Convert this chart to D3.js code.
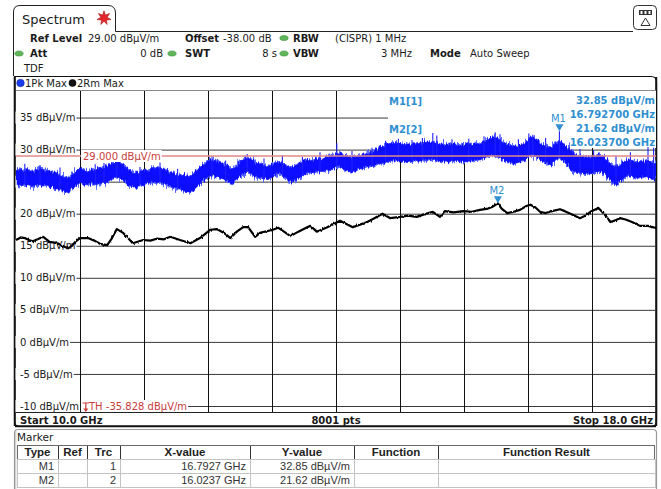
<!DOCTYPE html>
<html>
<head>
<meta charset="utf-8">
<script src="https://cdn.jsdelivr.net/npm/d3@7"></script>
<style>
  body { margin: 0; background: #fff; }
  svg { display: block; font-family: "DejaVu Sans", Verdana, sans-serif; }
</style>
</head>
<body>
<svg id="chart" width="661" height="489"></svg>
<script>
// ---- sweep settings ----
const startGHz = 10.0;
const stopGHz = 18.0;
const sweepPoints = 8001;
const refLevel = 29.0;
const thLevel = -35.828;
const yTicks = [-10, -5, 0, 5, 10, 15, 20, 25, 30, 35];
const xGrid = [10.8, 11.6, 12.4, 13.2, 14.0, 14.8, 15.6, 16.4, 17.2];

// ---- trace 1: Pk Max, envelope every 50 MHz (dBuV/m) ----
const pkStep = 0.05;
const pkTop = [
  26.8, 27.1, 26.6, 27.0, 26.5, 26.9, 27.3, 26.7, 26.9, 26.3,
  26.4, 25.9, 25.8, 25.4, 26.2, 26.6, 27.1, 26.8, 26.6, 27.0,
  26.7, 27.2, 27.1, 27.5, 27.8, 28.3, 28.0, 27.5, 26.9, 26.4,
  26.5, 26.3, 26.8, 26.7, 27.3, 27.0, 27.2, 26.9, 26.6, 26.4,
  26.1, 25.9, 26.1, 25.7, 26.0, 26.7, 27.2, 27.7, 28.2, 28.5,
  28.2, 28.1, 27.6, 27.4, 27.0, 27.5, 28.1, 28.5, 28.7, 28.4,
  28.0, 27.8, 27.5, 27.4, 27.8, 27.9, 28.1, 27.7, 27.4, 27.1,
  27.5, 27.9, 28.3, 28.4, 28.3, 28.6, 28.5, 28.7, 28.9, 29.0,
  29.4, 29.5, 29.2, 28.9, 28.7, 28.9, 29.0, 29.3, 29.5, 29.6,
  30.0, 30.4, 30.7, 30.9, 31.0, 31.1, 30.9, 30.7, 30.9, 30.8,
  30.9, 31.0, 31.1, 31.2, 31.2, 31.0, 30.9, 30.7, 30.8, 30.9,
  30.8, 30.7, 30.8, 30.9, 30.8, 30.9, 31.0, 31.3, 31.6, 32.0,
  31.9, 31.5, 31.0, 30.7, 30.6, 30.5, 30.7, 31.0, 31.6, 32.0,
  31.7, 31.0, 30.7, 30.5, 30.4, 31.0, 31.3, 30.9, 30.2, 29.6,
  29.1, 29.0, 28.8, 28.9, 28.7, 29.0, 29.2, 28.8, 28.2, 27.6,
  27.3, 27.6, 28.1, 28.4, 28.3, 28.1, 28.1, 28.2, 28.3, 27.9,
  27.8
];
const pkBottom = [
  24.5, 24.3, 24.6, 24.4, 24.2, 24.5, 24.4, 24.6, 24.3, 24.1,
  23.9, 23.8, 23.5, 23.3, 23.9, 24.3, 24.9, 24.6, 24.5, 24.7,
  24.5, 24.7, 24.8, 25.0, 25.4, 25.8, 25.6, 25.1, 24.5, 24.2,
  24.1, 24.3, 24.5, 24.7, 25.0, 24.8, 24.9, 24.7, 24.5, 24.2,
  23.9, 23.8, 23.6, 23.4, 23.5, 24.2, 24.8, 25.4, 25.8, 26.0,
  25.8, 25.7, 25.3, 25.0, 24.7, 25.3, 25.9, 26.3, 26.5, 26.1,
  25.8, 25.6, 25.4, 25.3, 25.8, 26.1, 26.4, 25.8, 25.2, 24.9,
  25.3, 25.7, 26.1, 26.4, 26.4, 26.5, 26.6, 26.7, 26.8, 27.0,
  27.2, 27.3, 26.9, 26.6, 26.5, 26.7, 27.0, 27.2, 27.3, 27.4,
  27.6, 27.9, 28.0, 28.1, 28.3, 28.4, 28.2, 28.1, 28.2, 28.2,
  28.3, 28.2, 28.4, 28.4, 28.5, 28.3, 28.2, 28.1, 28.1, 28.3,
  28.3, 28.1, 28.1, 28.2, 28.3, 28.3, 28.4, 28.7, 28.9, 29.2,
  29.0, 28.7, 28.3, 28.0, 27.9, 27.9, 28.1, 28.3, 28.9, 29.2,
  28.9, 28.4, 28.0, 27.8, 27.6, 28.5, 28.7, 28.2, 27.6, 26.8,
  26.5, 26.4, 26.3, 26.3, 26.2, 26.5, 26.7, 26.3, 25.6, 24.9,
  24.6, 25.0, 25.6, 25.9, 25.8, 25.6, 25.6, 25.7, 25.8, 25.4,
  25.3
];
// isolated peaks rising above the Pk Max band: [GHz, dBuV/m]
const pkSpikes = [
  [10.11, 27.8], [10.30, 27.6], [10.55, 27.2], [10.99, 27.7], [11.10, 27.9],
  [11.26, 28.6], [11.55, 27.3], [11.80, 28.0], [12.02, 27.0], [12.45, 29.0],
  [12.62, 28.3], [12.89, 29.3], [13.10, 28.6], [13.33, 29.1], [13.58, 28.9],
  [13.80, 29.6], [14.01, 31.0], [14.20, 29.8], [14.45, 30.3], [14.62, 31.4],
  [14.78, 31.7], [14.95, 31.5], [15.08, 31.8], [15.21, 32.6], [15.26, 32.2],
  [15.45, 31.6], [15.66, 31.7], [15.85, 32.1], [15.99, 32.7], [16.05, 32.4],
  [16.28, 31.6], [16.41, 32.5], [16.46, 32.3], [16.62, 31.8], [17.05, 30.1],
  [17.22, 29.9], [17.50, 29.0], [17.68, 29.6], [17.90, 30.4], [17.97, 30.3]
];

// ---- trace 2: Rm Max ----
const rmFreq = [
  10.00, 10.06, 10.11, 10.16, 10.21, 10.27, 10.34, 10.42, 10.52, 10.58,
  10.65, 10.70, 10.74, 10.80, 10.90, 10.98, 11.05, 11.14, 11.20, 11.26,
  11.34, 11.40, 11.46, 11.59, 11.68, 11.76, 11.85, 11.93, 12.05, 12.18,
  12.30, 12.43, 12.51, 12.60, 12.68, 12.76, 12.84, 12.90, 12.99, 13.05,
  13.21, 13.28, 13.35, 13.43, 13.53, 13.64, 13.68, 13.76, 13.89, 13.97,
  14.05, 14.13, 14.21, 14.30, 14.39, 14.48, 14.58, 14.68, 14.80, 14.90,
  15.01, 15.10, 15.21, 15.30, 15.36, 15.47, 15.59, 15.70, 15.80, 15.90,
  15.96, 16.0237, 16.07, 16.14, 16.22, 16.30, 16.38, 16.43, 16.49, 16.55,
  16.62, 16.70, 16.80, 16.86, 16.93, 17.05, 17.12, 17.18, 17.28, 17.35,
  17.43, 17.50, 17.55, 17.62, 17.70, 17.80, 17.90, 17.96, 18.00
];
const rmLevel = [
  15.9, 16.3, 16.2, 15.9, 15.7, 16.0, 16.4, 15.6, 15.4, 15.0,
  14.6, 15.0, 15.6, 16.2, 16.2, 15.8, 15.3, 15.1, 16.2, 17.6,
  17.0, 16.2, 15.4, 15.9, 15.8, 16.1, 16.0, 16.4, 15.9, 15.4,
  16.2, 17.5, 17.6, 17.0, 16.2, 17.2, 17.9, 17.9, 16.4, 17.0,
  17.5, 17.8, 17.2, 16.5, 17.2, 17.9, 18.1, 17.2, 17.9, 18.4,
  18.9, 18.4, 17.9, 18.3, 18.7, 19.3, 20.0, 19.3, 19.5, 19.7,
  19.5, 19.9, 20.3, 19.5, 20.4, 20.2, 20.4, 20.3, 20.6, 20.8,
  21.1, 21.62, 20.8, 20.1, 20.3, 20.6, 21.2, 21.4, 21.0, 20.3,
  20.1, 20.4, 20.7, 20.4, 20.0, 19.3, 19.7, 20.3, 20.9, 20.0,
  18.7, 19.0, 19.3, 19.1, 18.7, 18.1, 18.1, 17.9, 17.8
];

// ---- markers ----
const markerNames = ["M1", "M2"];
const markerTrace = [1, 2];
const markerFreq = [16.7927, 16.0237];
const markerLevel = [32.85, 21.62];

// ---- table header ----
const tableCols = ["Type", "Ref", "Trc", "X-value", "Y-value", "Function", "Function Result"];

// ================= drawing =================
const svg = d3.select("#chart");
const plotL = 16, plotR = 656, plotT = 90, plotB = 412;
const x = d3.scaleLinear().domain([startGHz, stopGHz]).range([plotL, plotR]);
const y = d3.scaleLinear().domain([-10, 40]).range([406, 85.5]);

const TXT = "#1a1a1a";
const MK = "#2f8fd0";
const RED = "#c83c3c";

svg.append("rect").attr("width", 661).attr("height", 489).attr("fill", "#fff");

// detector noise look for the traces: fine-grained jitter of the drawn edges
const defs = svg.append("defs");
function jitterFilter(id, freq, scale, seed) {
  const f = defs.append("filter").attr("id", id)
    .attr("filterUnits", "userSpaceOnUse")
    .attr("x", 0).attr("y", 60).attr("width", 661).attr("height", 380);
  f.append("feTurbulence").attr("type", "fractalNoise").attr("baseFrequency", freq)
    .attr("numOctaves", 2).attr("seed", seed).attr("result", "n");
  f.append("feDisplacementMap").attr("in", "SourceGraphic").attr("in2", "n")
    .attr("scale", scale).attr("xChannelSelector", "R").attr("yChannelSelector", "G");
}
jitterFilter("pkHalo", "0.9 0.03", 12, 4);
jitterFilter("pkCore", "0.7 0.05", 7, 9);
jitterFilter("rmFuzz", "0.8 0.1", 2.5, 2);

// ---------- header: tab, icon, settings ----------
const head = svg.append("g");
head.append("path")
  .attr("d", "M13.5,76 V12 Q13.5,5.5 20,5.5 H108 Q115.5,5.5 115.5,13 V31.5 H633")
  .attr("fill", "none").attr("stroke", "#222").attr("stroke-width", 1);
head.append("text").attr("x", 22).attr("y", 23.5).attr("font-size", 13)
  .attr("fill", TXT).text("Spectrum");
// red star badge
const star = d3.range(14).map(k => {
  const r = k % 2 === 0 ? 7.2 : 3.2;
  const a = -Math.PI / 2 + k * Math.PI / 7;
  return [104 + r * Math.cos(a), 18 + r * Math.sin(a)];
});
head.append("path").attr("d", d3.line()(star) + "Z")
  .attr("fill", "#e5262a").attr("stroke", "#a3181b").attr("stroke-width", 0.6);

// icon at top right
head.append("rect").attr("x", 633.5).attr("y", 5.5).attr("width", 23).attr("height", 24).attr("rx", 4)
  .attr("fill", "#fff").attr("stroke", "#333");
head.append("rect").attr("x", 639).attr("y", 10).attr("width", 13).attr("height", 5).attr("fill", "#333");
head.selectAll("rect.seg").data([641.5, 645.5, 649.5]).enter().append("rect")
  .attr("x", d => d - 1).attr("y", 11).attr("width", 2).attr("height", 3).attr("fill", "#fff");
head.append("path").attr("d", "M645.5,18 L650,25.5 L641,25.5 Z")
  .attr("fill", "none").attr("stroke", "#333");

function txt(g, xx, yy, s, opt = {}) {
  return g.append("text").attr("x", xx).attr("y", yy)
    .attr("font-size", opt.size || 10)
    .attr("font-weight", opt.bold ? "bold" : null)
    .attr("text-anchor", opt.anchor || "start")
    .attr("fill", opt.fill || TXT).text(s);
}
function dot(g, cx, cy) {
  g.append("ellipse").attr("cx", cx).attr("cy", cy).attr("rx", 4.2).attr("ry", 2.6)
    .attr("fill", "#5fb65a").attr("stroke", "#3f8e3b").attr("stroke-width", 0.5);
}
const r1 = 41.5, r2 = 57;
txt(head, 30, r1, "Ref Level", { bold: true });
txt(head, 88, r1, "29.00 dBµV/m");
txt(head, 185, r1, "Offset", { bold: true });
txt(head, 223, r1, "-38.00 dB");
dot(head, 284, r1 - 3.5);
txt(head, 293, r1, "RBW", { bold: true });
txt(head, 335, r1, "(CISPR) 1 MHz");
dot(head, 19, r2 - 3.5);
txt(head, 30, r2, "Att", { bold: true });
txt(head, 163, r2, "0 dB", { anchor: "end" });
dot(head, 172, r2 - 3.5);
txt(head, 185, r2, "SWT", { bold: true });
txt(head, 277, r2, "8 s", { anchor: "end" });
dot(head, 284, r2 - 3.5);
txt(head, 293, r2, "VBW", { bold: true });
txt(head, 412, r2, "3 MHz", { anchor: "end" });
txt(head, 430, r2, "Mode", { bold: true });
txt(head, 470, r2, "Auto Sweep");
txt(head, 24, 72, "TDF");

// ---------- diagram frame ----------
const frame = svg.append("g");
frame.append("path")
  .attr("d", "M14.5,76.5 H651 Q656.5,76.5 656.5,82 V421 Q656.5,426.5 651,426.5 H20 Q14.5,426.5 14.5,421 Z")
  .attr("fill", "#fff").attr("stroke", "#111").attr("stroke-width", 1.2);
frame.append("path").attr("d", "M14.8,77 V426 M656.2,77 V426 M15,426.2 H656")
  .attr("stroke", "#111").attr("stroke-width", 2).attr("fill", "none");

// trace legend
frame.append("circle").attr("cx", 20.5).attr("cy", 83).attr("r", 3.8).attr("fill", "#1a3cf0").attr("stroke", "#10208a").attr("stroke-width", 0.5);
txt(frame, 25, 86.5, "1Pk Max");
frame.append("circle").attr("cx", 72.5).attr("cy", 83).attr("r", 3.8).attr("fill", "#111");
txt(frame, 77, 86.5, "2Rm Max");

// ---------- grid ----------
const grid = svg.append("g");
const gy = grid.append("g").attr("transform", `translate(${plotL},0)`)
  .call(d3.axisRight(y).tickValues(yTicks).tickSize(plotR - plotL).tickFormat(""));
gy.select(".domain").remove();
gy.selectAll("line").attr("stroke", "#3a3a3a");
const gx = grid.append("g").attr("transform", `translate(0,${plotT})`)
  .call(d3.axisBottom(x).tickValues(xGrid).tickSize(plotB - plotT).tickFormat(""));
gx.select(".domain").remove();
gx.selectAll("line").attr("stroke", "#111");
grid.append("line").attr("x1", plotL).attr("x2", plotR).attr("y1", plotT + 0.5).attr("y2", plotT + 0.5).attr("stroke", "#8a8a8a");
grid.append("line").attr("x1", plotL).attr("x2", plotR).attr("y1", plotB + 0.5).attr("y2", plotB + 0.5).attr("stroke", "#222");

// level labels on a white ground
function labelWithGround(g, xx, yy, s, fill, padL) {
  const t = txt(g, xx, yy + 3.6, s, { fill });
  const w = t.node().getComputedTextLength();
  const left = xx - (padL || 2);
  g.insert("rect", () => t.node())
    .attr("x", left).attr("y", yy - 6).attr("width", xx + w + 1 - left).attr("height", 12).attr("fill", "#fff");
  return w;
}
const labels = svg.append("g");
yTicks.forEach(v => labelWithGround(labels, 20, y(v), `${v} dBµV/m`, TXT, 4.5));
// threshold indicator pinned to the bottom grid line
const thG = svg.append("g");
labelWithGround(thG, 89, y(-10), `TH  ${thLevel.toFixed(3)} dBµV/m`, RED, 8);
thG.append("path").attr("d", `M82.5,${y(-10) - 3} H89 M85.8,${y(-10) - 3} V${y(-10) + 5}`)
  .attr("stroke", RED).attr("stroke-width", 1.2).attr("fill", "none");
thG.append("path").attr("d", `M83.3,${y(-10) + 2.5} L88.3,${y(-10) + 2.5} L85.8,${y(-10) + 6} Z`).attr("fill", RED);

// marker info box (covers the grid, traces run over it)
const info = svg.append("g");
info.append("rect").attr("x", 388).attr("y", plotT + 1).attr("width", plotR - 388).attr("height", 57).attr("fill", "#fff");

// ---------- traces ----------
svg.append("clipPath").attr("id", "plotClip").append("rect")
  .attr("x", plotL).attr("y", plotT + 1).attr("width", plotR - plotL).attr("height", plotB - plotT - 1);
const traces = svg.append("g").attr("clip-path", "url(#plotClip)");

const pkX = i => x(startGHz + i * pkStep);
const pkArea = d3.area()
  .x((d, i) => pkX(i))
  .y0((d, i) => y(pkBottom[i]))
  .y1((d, i) => y(pkTop[i]));
traces.append("g").attr("filter", "url(#pkHalo)")
  .append("path").datum(pkTop).attr("d", pkArea)
  .attr("fill", "#5566ff").attr("stroke", "#5566ff").attr("stroke-width", 1.5);
traces.append("g").attr("filter", "url(#pkCore)")
  .append("path").datum(pkTop).attr("d", pkArea)
  .attr("fill", "#1010ff").attr("stroke", "#1010ff").attr("stroke-width", 0.5);

const nearestIdx = f => Math.max(0, Math.min(pkTop.length - 1, Math.round((f - startGHz) / pkStep)));
const spikeData = pkSpikes.concat(markerTrace.map((t, k) => t === 1 ? [markerFreq[k], markerLevel[k]] : null).filter(Boolean));
traces.selectAll("line.spike").data(spikeData).enter().append("line")
  .attr("x1", d => x(d[0])).attr("x2", d => x(d[0]))
  .attr("y1", d => y(pkBottom[nearestIdx(d[0])]))
  .attr("y2", d => y(d[1]))
  .attr("stroke", "#2020ff").attr("stroke-width", 1.1);

const rmLine = d3.line().x((d, i) => x(rmFreq[i])).y(d => y(d));
traces.append("g").attr("filter", "url(#rmFuzz)")
  .append("path").datum(rmLevel).attr("d", rmLine)
  .attr("fill", "none").attr("stroke", "#000").attr("stroke-width", 2.2).attr("stroke-linejoin", "round");

// reference level line
const refG = svg.append("g");
const refY = y(refLevel);
refG.append("line").attr("x1", plotL).attr("x2", plotR).attr("y1", refY).attr("y2", refY)
  .attr("stroke", "#e08a8a").attr("stroke-width", 1.6);
labelWithGround(refG, 83, refY, `${refLevel.toFixed(3)} dBµV/m`, RED, 2);

// ---------- markers ----------
const mk = svg.append("g");
markerNames.forEach((name, k) => {
  const mx = x(markerFreq[k]), my = y(markerLevel[k]);
  mk.append("path").attr("d", `M${mx - 4},${my - 7} L${mx + 4},${my - 7} L${mx},${my} Z`).attr("fill", MK);
  txt(mk, mx - 1, my - 9, name, { anchor: "middle", fill: MK });
});
// marker readout
markerNames.forEach((name, k) => {
  const base = 104 + k * 28;
  txt(info, 389, base + 1, `${name}[${markerTrace[k]}]`, { bold: true, fill: MK });
  txt(info, 655, base, `${markerLevel[k].toFixed(2)} dBµV/m`, { bold: true, fill: MK, anchor: "end" });
  txt(info, 655, base + 14, `${markerFreq[k].toFixed(6)} GHz`, { bold: true, fill: MK, anchor: "end" });
});

// ---------- footer ----------
const foot = svg.append("g");
txt(foot, 20, 423.5, `Start ${startGHz.toFixed(1)} GHz`, { bold: true });
txt(foot, 336, 423.5, `${sweepPoints} pts`, { bold: true, anchor: "middle" });
txt(foot, 653, 423.5, `Stop ${stopGHz.toFixed(1)} GHz`, { bold: true, anchor: "end" });

// ---------- marker table ----------
const tbl = svg.append("g").attr("font-family", "'Liberation Sans', Arial, sans-serif");
tbl.append("path")
  .attr("d", "M14.5,495 V433 Q14.5,429.5 18,429.5 H653 Q656.5,429.5 656.5,433 V495")
  .attr("fill", "#fff").attr("stroke", "#9a9a9a").attr("stroke-width", 1.2);
tbl.append("line").attr("x1", 15.8).attr("x2", 15.8).attr("y1", 431).attr("y2", 489).attr("stroke", "#c4c4c4");
tbl.append("text").attr("x", 17).attr("y", 441).attr("font-size", 10.5)
  .attr("font-family", "'DejaVu Sans', Verdana, sans-serif").attr("fill", TXT).text("Marker");

const colEdges = [17, 58, 87, 120, 250, 354, 438, 655];
const hdrT = 445, rowH = 14;
tbl.append("rect").attr("x", 17.5).attr("y", hdrT + 0.5).attr("width", 637).attr("height", rowH)
  .attr("fill", "#fff").attr("stroke", "#6a6a6a");
colEdges.slice(1, -1).forEach(cx => {
  tbl.append("line").attr("x1", cx + 0.5).attr("x2", cx + 0.5).attr("y1", hdrT + 1).attr("y2", hdrT + rowH)
    .attr("stroke", "#333");
});
tableCols.forEach((c, k) => {
  tbl.append("text").attr("x", (colEdges[k] + colEdges[k + 1]) / 2).attr("y", hdrT + 11)
    .attr("text-anchor", "middle").attr("font-size", 11.5).attr("font-weight", "bold")
    .attr("fill", "#222").text(c);
});
markerNames.forEach((name, k) => {
  const top = hdrT + rowH * (k + 1);
  colEdges.slice(0, -1).forEach((cx, j) => {
    tbl.append("rect").attr("x", cx + 0.5).attr("y", top + 0.5)
      .attr("width", colEdges[j + 1] - cx).attr("height", rowH)
      .attr("fill", "#fff").attr("stroke", "#c3c3c3");
  });
  const cells = [name, "", String(markerTrace[k]), `${markerFreq[k].toFixed(4)} GHz`,
    `${markerLevel[k].toFixed(2)} dBµV/m`, "", ""];
  cells.forEach((s, j) => {
    if (!s) return;
    tbl.append("text").attr("x", colEdges[j + 1] - 4).attr("y", top + 11)
      .attr("text-anchor", "end").attr("font-size", 11).attr("fill", "#333").text(s);
  });
});
</script>
</body>
</html>
